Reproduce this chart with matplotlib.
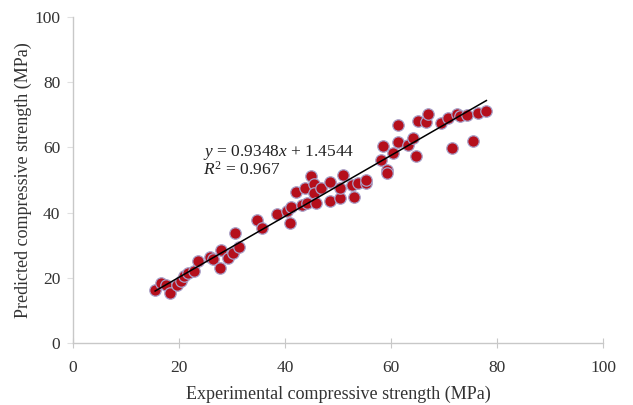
import numpy as np
import matplotlib.pyplot as plt

# experimental vs predicted compressive strength (MPa)
exp_strength = [
    15.5, 16.7, 17.5, 18.3, 19.6, 20.4, 20.9, 21.7, 22.8, 23.6,
    25.8, 26.4, 27.7, 27.9, 29.2, 30.2, 31.3, 30.6, 34.7, 35.7,
    38.4, 40.4, 40.9, 41.1, 42.1, 43.2, 43.8, 44.1, 45.0, 45.5,
    45.5, 45.8, 46.8, 48.5, 48.5, 50.4, 50.4, 50.9, 52.6, 53.0,
    53.8, 55.3, 55.3, 58.2, 58.5, 59.2, 59.2, 60.4, 61.3, 61.3,
    63.2, 64.2, 64.8, 65.1, 66.6, 67.0, 69.4, 70.8, 71.5, 72.4,
    73.0, 74.3, 75.5, 76.4, 78.0,
]
pred_strength = [
    16.3, 18.4, 17.8, 15.3, 17.8, 19.0, 20.6, 21.5, 22.1, 25.2,
    26.5, 25.8, 23.0, 28.5, 26.1, 27.6, 29.4, 33.7, 37.7, 35.3,
    39.6, 40.5, 36.8, 41.7, 46.3, 42.3, 47.5, 42.9, 51.2, 48.8,
    46.0, 42.9, 47.5, 49.5, 43.7, 44.6, 47.5, 51.5, 48.5, 44.9,
    49.1, 49.2, 50.0, 56.1, 60.3, 53.1, 52.1, 58.3, 66.9, 61.7,
    60.7, 62.9, 57.5, 68.2, 67.9, 70.1, 67.5, 69.0, 59.7, 70.2,
    69.6, 69.8, 62.1, 70.6, 71.3,
]
slope, intercept, r2 = 0.9348, 1.4544, 0.967

plt.rcParams["font.family"] = ["Liberation Serif", "DejaVu Serif"]
plt.rcParams["mathtext.fontset"] = "custom"
plt.rcParams["mathtext.rm"] = "Liberation Serif"
plt.rcParams["mathtext.it"] = "Liberation Serif:italic"

fig = plt.figure(figsize=(6.33, 4.05), dpi=100)
ax = fig.add_axes([0.1153, 0.1531, 0.8373, 0.805])

ax.scatter(exp_strength, pred_strength, s=68, color="#b50f1c",
           edgecolors="#a8a0c8", linewidths=0.9, zorder=3)

xs = np.array([min(exp_strength), max(exp_strength)])
ax.plot(xs, slope * xs + intercept, color="black", lw=1.1, zorder=4)

ax.text(24.5, 58.4, r"$y$ = 0.9348$x$ + 1.4544", fontsize=12.5,
        color="#222222", va="center")
ax.text(24.5, 53.1, r"$R^2$ = 0.967", fontsize=12.5,
        color="#222222", va="center")

ax.set_xlim(0, 100)
ax.set_ylim(0, 100)
ax.set_xticks(range(0, 101, 20))
ax.set_yticks(range(0, 101, 20))
for side in ("top", "right"):
    ax.spines[side].set_visible(False)
for side in ("left", "bottom"):
    ax.spines[side].set_color("#c8c8c8")
    ax.spines[side].set_linewidth(1.0)
ax.tick_params(axis="x", direction="inout", length=7, color="#c8c8c8",
               labelsize=12.5, labelcolor="#333333", pad=9)
ax.tick_params(axis="y", direction="out", length=4, color="#e0e0e0",
               labelsize=12.5, labelcolor="#333333", pad=5)

ax.set_xlabel("Experimental compressive strength (MPa)", fontsize=13,
              color="#333333", labelpad=7)
ax.set_ylabel("Predicted compressive strength (MPa)", fontsize=13,
              color="#333333", labelpad=2)

fig.savefig("out.png", dpi=100)
